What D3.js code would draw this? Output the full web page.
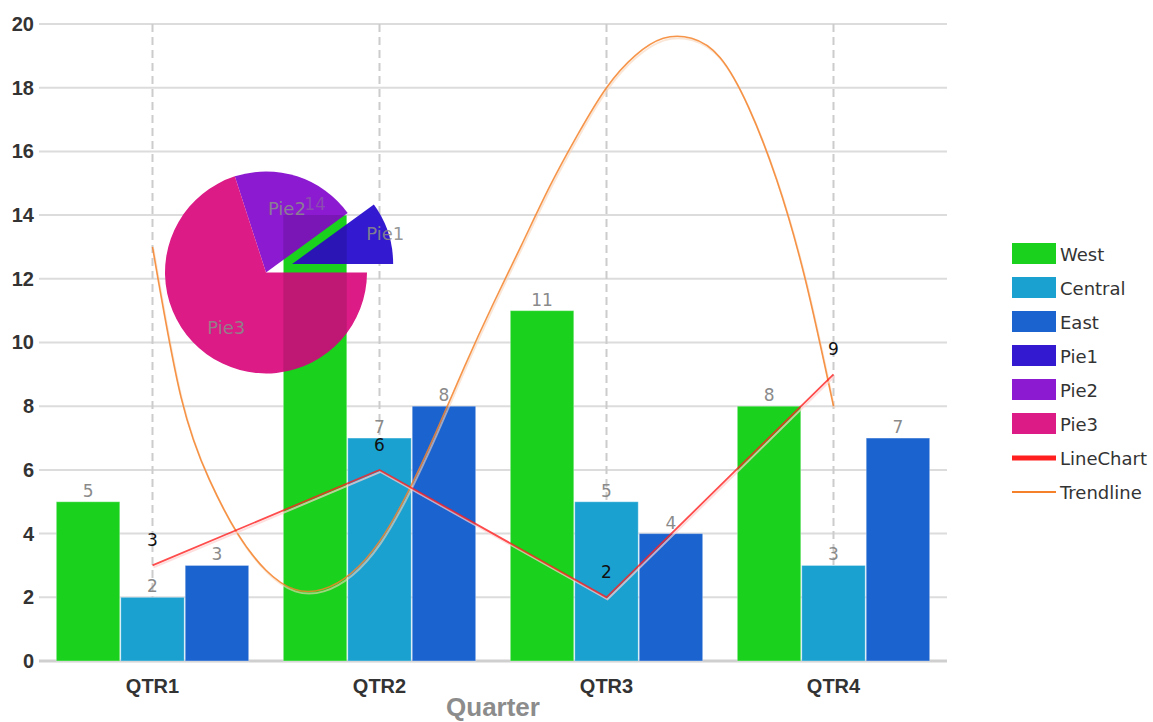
<!DOCTYPE html>
<html>
<head>
<meta charset="utf-8">
<script src="https://cdn.jsdelivr.net/npm/d3@7"></script>
<style>
  html, body { margin: 0; padding: 0; background: #fff; }
  svg { display: block; }
</style>
</head>
<body>
<svg id="chart" width="1153" height="722"></svg>
<script>
// ---------------- data ----------------
const categories = ["QTR1", "QTR2", "QTR3", "QTR4"];
const seriesNames = ["West", "Central", "East"];
const west = [5, 14, 11, 8];
const central = [2, 7, 5, 3];
const east = [3, 8, 4, 7];
const pieNames = ["Pie1", "Pie2", "Pie3"];
const pieValues = [1, 2, 7];
const lineChart = [3, 6, 2, 9];
// trendline: position in quarter units (0 = QTR1) and value
const trendPos = [0, 0.125, 0.25, 0.375, 0.5, 0.625, 0.75, 0.875, 1.0, 1.125, 1.25, 1.375, 1.5,
                  1.625, 1.75, 1.875, 2.0, 2.125, 2.25, 2.375, 2.5, 2.625, 2.75, 2.875, 3.0];
const trendVal = [13.0, 8.3, 5.7, 4.0, 2.85, 2.25, 2.25, 2.75, 3.75, 5.3, 7.2, 9.25, 11.2,
                  13.05, 14.9, 16.55, 18.0, 19.0, 19.55, 19.55, 18.95, 17.4, 15.1, 12.0, 8.0];
const yTicks = [0, 2, 4, 6, 8, 10, 12, 14, 16, 18, 20];
const xTitle = "Quarter";
const legendLabels = ["West", "Central", "East", "Pie1", "Pie2", "Pie3", "LineChart", "Trendline"];

// ---------------- styles ----------------
const barColors = ["#1ad11e", "#1ba1d0", "#1b63cf"];
const pieColors = ["#3319d0", "#8c1ad0", "#dc1b86"];
const lineColor = "#ff1f1f";
const trendColor = "#f5822a";

const plot = { left: 39, right: 947, top: 24, bottom: 661 };

const svg = d3.select("#chart");

const x0 = d3.scaleBand().domain(categories)
  .range([plot.left, plot.right]).paddingInner(0.144).paddingOuter(0.072);
const x1 = d3.scaleBand().domain(seriesNames)
  .range([0, x0.bandwidth()]).padding(0.015);
const y = d3.scaleLinear().domain([0, 20]).range([plot.bottom, plot.top]);
const cx = c => x0(c) + x0.bandwidth() / 2;
const xt = d3.scaleLinear().domain([0, categories.length - 1])
  .range([cx(categories[0]), cx(categories[categories.length - 1])]);

// gridlines
svg.append("g").selectAll("line").data(yTicks).join("line")
  .attr("x1", plot.left).attr("x2", plot.right)
  .attr("y1", d => y(d)).attr("y2", d => y(d))
  .attr("stroke", d => d === 0 ? "#cfcfcf" : "#dcdcdc")
  .attr("stroke-width", d => d === 0 ? 3 : 2);

// vertical dashed lines
svg.append("g").selectAll("line").data(categories).join("line")
  .attr("x1", d => cx(d)).attr("x2", d => cx(d))
  .attr("y1", plot.top).attr("y2", plot.bottom)
  .attr("stroke", "#cccccc").attr("stroke-width", 2)
  .attr("stroke-dasharray", "8,5");

// axes
const yAxis = svg.append("g").attr("transform", `translate(${plot.left},0)`)
  .call(d3.axisLeft(y).tickValues(yTicks).tickSize(0).tickPadding(5));
yAxis.select(".domain").remove();
yAxis.selectAll("text").attr("font-family", "Liberation Sans, Arial, sans-serif")
  .attr("font-weight", "bold").attr("font-size", 20).attr("fill", "#333");

const xAxis = svg.append("g").attr("transform", `translate(0,${plot.bottom})`)
  .call(d3.axisBottom(x0).tickSize(0).tickPadding(18));
xAxis.select(".domain").remove();
xAxis.selectAll("text").attr("font-family", "Liberation Sans, Arial, sans-serif")
  .attr("font-weight", "bold").attr("font-size", 20).attr("fill", "#333");

svg.append("text").text(xTitle)
  .attr("x", (plot.left + plot.right) / 2).attr("y", 716)
  .attr("text-anchor", "middle")
  .attr("font-family", "Liberation Sans, Arial, sans-serif")
  .attr("font-weight", "bold").attr("font-size", 26).attr("fill", "#8c8c8c");

// bars
const seriesVals = [west, central, east];
const barData = [];
categories.forEach((c, i) => seriesNames.forEach((s, j) => {
  barData.push({ cat: c, series: s, j, value: seriesVals[j][i] });
}));
svg.append("g").selectAll("rect").data(barData).join("rect")
  .attr("x", d => x0(d.cat) + x1(d.series))
  .attr("width", x1.bandwidth())
  .attr("y", d => y(d.value))
  .attr("height", d => y(0) - y(d.value))
  .attr("fill", d => barColors[d.j])
  .attr("stroke", "rgba(255,255,255,0.35)").attr("stroke-width", 1);

const barLabels = svg.append("g");
barLabels.selectAll("text").data(barData).join("text")
  .attr("x", d => x0(d.cat) + x1(d.series) + x1.bandwidth() / 2)
  .attr("y", d => y(d.value) - 5)
  .attr("text-anchor", "middle")
  .attr("font-family", "DejaVu Sans, Verdana, sans-serif")
  .attr("font-size", 17).attr("fill", "#8a8a8a")
  .text(d => d.value);

// pie
const pcx = plot.left + 0.25 * (plot.right - plot.left);
const pcy = plot.top + 0.39 * (plot.bottom - plot.top);
const R = 101;
const explode = [27.5, 0, 0];
const pie = d3.pie().sort(null).startAngle(Math.PI / 2).endAngle(Math.PI / 2 - 2 * Math.PI);
const arcs = pie(pieValues);
arcs.forEach((a, i) => {
  const mid = (a.startAngle + a.endAngle) / 2;
  a.dx = Math.sin(mid) * explode[i];
  a.dy = -Math.cos(mid) * explode[i];
  a.mid = mid;
  a.name = pieNames[i];
  a.i = i;
});
const arcGen = d3.arc().innerRadius(0).outerRadius(R);
const pieG = svg.append("g").attr("transform", `translate(${pcx},${pcy})`);
pieG.selectAll("path").data(arcs).join("path")
  .attr("transform", d => `translate(${d.dx},${d.dy})`)
  .attr("d", arcGen)
  .attr("fill", d => pieColors[d.i]);

// darken where the pie covers the QTR2 West bar
const overlapBar = barData.find(d => d.cat === "QTR2" && d.series === "West");
svg.append("clipPath").attr("id", "barclip").append("rect")
  .attr("x", x0(overlapBar.cat) + x1(overlapBar.series) - pcx)
  .attr("width", x1.bandwidth())
  .attr("y", y(overlapBar.value) - pcy)
  .attr("height", y(0) - y(overlapBar.value));
pieG.append("g").attr("clip-path", "url(#barclip)")
  .selectAll("path").data(arcs).join("path")
  .attr("transform", d => `translate(${d.dx},${d.dy})`)
  .attr("d", arcGen)
  .attr("fill", "#000").attr("fill-opacity", 0.13);

pieG.selectAll("text.pl").data(arcs).join("text").attr("class", "pl")
  .attr("x", d => Math.sin(d.mid) * (explode[d.i] ? R * 0.97 + explode[d.i] : R * 0.67))
  .attr("y", d => -Math.cos(d.mid) * (explode[d.i] ? R * 0.97 + explode[d.i] : R * 0.67))
  .attr("text-anchor", "middle").attr("dominant-baseline", "central")
  .attr("font-family", "DejaVu Sans, Verdana, sans-serif")
  .attr("font-size", 18).attr("fill", "#8a8a8a").attr("fill-opacity", 0.9)
  .text(d => d.name);

// the "14" label sits faintly over the pie
barLabels.raise();
barLabels.selectAll("text").attr("fill-opacity", d => d.value === 14 ? 0.45 : 1);

// trendline
const trendPts = trendPos.map((p, i) => [xt(p), y(trendVal[i])]);
const trendLine = d3.line().curve(d3.curveNatural);
svg.append("path").attr("d", trendLine(trendPts))
  .attr("transform", "translate(1,2)")
  .attr("fill", "none").attr("stroke", "#f7d6bc").attr("stroke-width", 2).attr("opacity", 0.6);
svg.append("path").attr("d", trendLine(trendPts))
  .attr("fill", "none").attr("stroke", trendColor).attr("stroke-width", 1.6).attr("opacity", 0.85);

// line chart
const linePts = categories.map((c, i) => [cx(c), y(lineChart[i])]);
svg.append("path").attr("d", d3.line()(linePts))
  .attr("transform", "translate(1,2)")
  .attr("fill", "none").attr("stroke", "#ffd0d0").attr("stroke-width", 2).attr("opacity", 0.7);
svg.append("path").attr("d", d3.line()(linePts))
  .attr("fill", "none").attr("stroke", lineColor).attr("stroke-width", 1.8).attr("opacity", 0.8);
svg.append("g").selectAll("text").data(lineChart).join("text")
  .attr("x", (d, i) => cx(categories[i]))
  .attr("y", d => y(d) - 19)
  .attr("text-anchor", "middle")
  .attr("font-family", "DejaVu Sans, Verdana, sans-serif")
  .attr("font-size", 17).attr("fill", "#111")
  .text(d => d);

// legend
const legendColors = [...barColors, ...pieColors, lineColor, trendColor];
const lg = svg.append("g").attr("transform", "translate(1012,254)");
const rows = lg.selectAll("g").data(legendLabels).join("g")
  .attr("transform", (d, i) => `translate(0,${i * 34})`);
rows.each(function (d, i) {
  const g = d3.select(this);
  if (i < 6) {
    g.append("rect").attr("x", 0).attr("y", -11).attr("width", 44).attr("height", 21)
      .attr("fill", legendColors[i]);
  } else {
    g.append("line").attr("x1", 0).attr("x2", 44).attr("y1", 0).attr("y2", 0)
      .attr("stroke", legendColors[i]).attr("stroke-width", i === 6 ? 5 : 2);
  }
  g.append("text").attr("x", 48).attr("y", 0).attr("dominant-baseline", "central")
    .attr("font-family", "DejaVu Sans, Verdana, sans-serif")
    .attr("font-size", 18).attr("fill", "#333").text(d);
});
</script>
</body>
</html>
